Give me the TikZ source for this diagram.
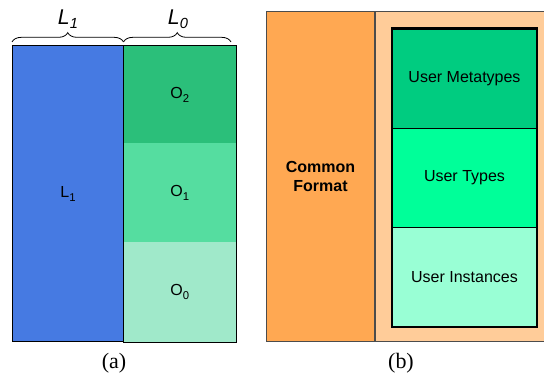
\documentclass[tikz,border=0pt]{standalone}
\usepackage{fontspec}
\setmainfont{Liberation Sans}
\newfontfamily\capserif{Liberation Serif}
\usetikzlibrary{decorations.pathreplacing}
\definecolor{blueL}{HTML}{467AE2}
\definecolor{gO2}{HTML}{2BBF7A}
\definecolor{gO1}{HTML}{55DDA0}
\definecolor{gO0}{HTML}{A0E9CA}
\definecolor{orng}{HTML}{FFA852}
\definecolor{peach}{HTML}{FFCC99}
\definecolor{uMeta}{HTML}{00CC80}
\definecolor{uType}{HTML}{00FF99}
\definecolor{uInst}{HTML}{99FFD5}
\newcommand{\lowsub}[1]{\raisebox{-0.45ex}{\fontsize{8.5}{9}\selectfont #1}}
\newcommand{\lowsubbig}[1]{\raisebox{-0.35ex}{\fontsize{11}{12}\selectfont #1}}
\tikzset{
  cell/.style={draw=black, line width=0.75pt, inner sep=0pt, font=\fontsize{12}{14}\selectfont},
  brc/.style={decorate, decoration={brace, amplitude=7pt}, line width=0.6pt},
  toplbl/.style={font=\fontsize{16}{18}\selectfont\itshape},
  caplbl/.style={font=\capserif\fontsize{16.5}{18}\selectfont},
}
\begin{document}
\begin{tikzpicture}[x=0.75pt,y=-0.75pt]
\useasboundingbox (0,0) rectangle (544,374);
% panel (a)
\node[cell, fill=blueL, minimum width=112*0.75pt, minimum height=296*0.75pt] (L1) at (68,194) {L\lowsub{1}};
\node[cell, fill=gO2, draw=none, minimum width=111.5*0.75pt, minimum height=97.5*0.75pt] (O2) at (179.75,94.75) {O\lowsub{2}};
\node[cell, fill=gO1, draw=none, minimum width=111.5*0.75pt, minimum height=99*0.75pt] (O1) at (179.75,193) {O\lowsub{1}};
\node[cell, fill=gO0, draw=none, minimum width=111.5*0.75pt, minimum height=99.5*0.75pt] (O0) at (179.75,292.25) {O\lowsub{0}};
\draw[line width=0.75pt] (O2.north west) rectangle (O0.south east);
\coordinate (b1) at (12,42);
\coordinate (b2) at (123.5,42);
\coordinate (b3) at (231,42);
\draw[brc] (b1) -- (b2);
\draw[brc] (b2) -- (b3);
\node[toplbl] (t1) at (68,19) {L\lowsubbig{1}};
\node[toplbl] (t0) at (178,19) {L\lowsubbig{0}};
\node[caplbl] (ca) at (114,363) {(a)};
% panel (b)
\node[draw=black!70, line width=0.6pt, fill=orng, inner sep=0pt, minimum width=107.6*0.75pt, minimum height=330.7*0.75pt, align=center, font=\fontsize{12}{14}\selectfont\bfseries] (cf) at (320.5,176.35) {Common\\Format};
\node[draw=black!70, line width=0.6pt, fill=peach, inner sep=0pt, minimum width=175*0.75pt, minimum height=330.7*0.75pt, anchor=west] (pe) at (cf.east) {};
\node[cell, fill=uMeta, minimum width=144.4*0.75pt, minimum height=99.3*0.75pt] (um) at (464.5,78.65) {User Metatypes};
\node[cell, fill=uType, minimum width=144.4*0.75pt, minimum height=99.4*0.75pt] (ut) at (464.5,178) {User Types};
\node[cell, fill=uInst, minimum width=144.4*0.75pt, minimum height=99*0.75pt] (ui) at (464.5,277.2) {User Instances};
\draw[line width=1.6pt] (um.north west) rectangle (ui.south east);
\node[caplbl] (cb) at (401,363) {(b)};
\end{tikzpicture}
\end{document}
